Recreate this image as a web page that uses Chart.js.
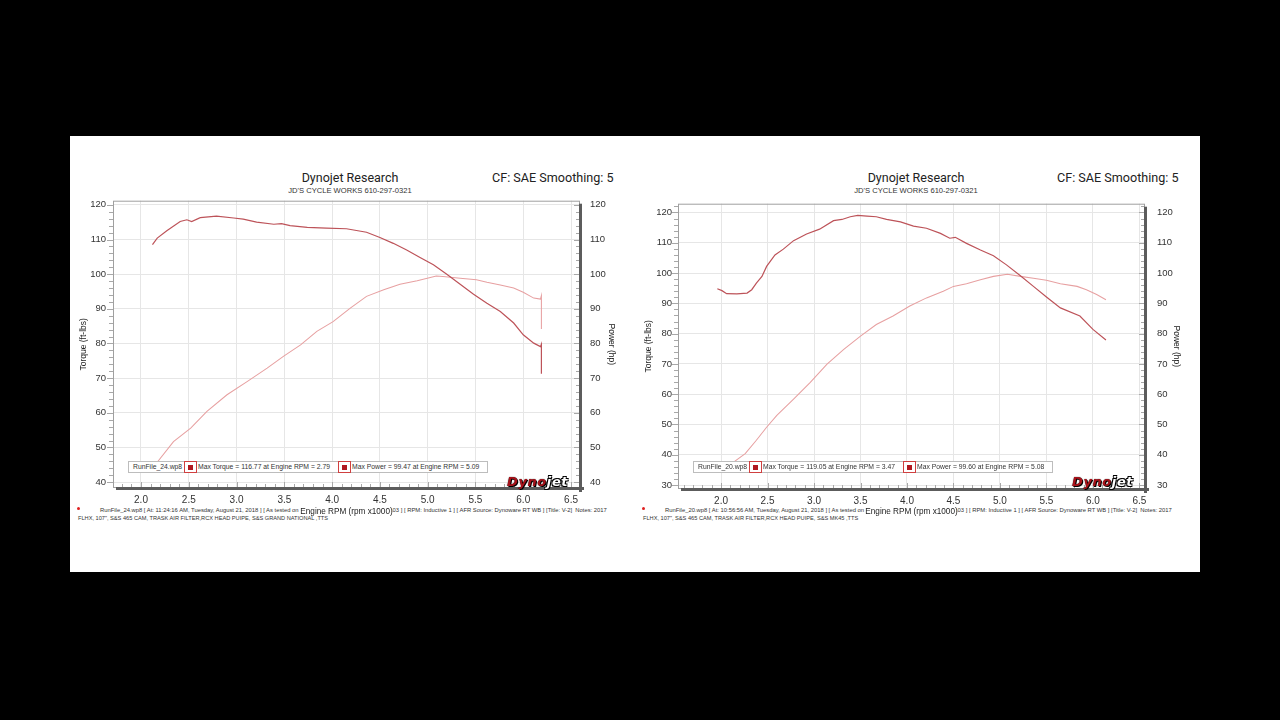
<!DOCTYPE html>
<html><head><meta charset="utf-8">
<script src="https://cdn.jsdelivr.net/npm/chart.js@4.4.1/dist/chart.umd.min.js"></script>
<style>
html,body{margin:0;padding:0;background:#000;width:1280px;height:720px;overflow:hidden;font-family:"Liberation Sans",Arial,sans-serif;}
#panel{position:absolute;left:70px;top:136px;width:1130px;height:436px;background:#fff;}
.abs{position:absolute;white-space:nowrap;}
.title{font-family:Roboto,"Liberation Sans",sans-serif;font-size:12.5px;color:#222;text-align:center;width:200px;line-height:16px;}
.sub{font-size:7.6px;color:#333;text-align:center;width:200px;line-height:10px;}
.cf{font-family:Roboto,"Liberation Sans",sans-serif;font-size:12.6px;color:#222;line-height:16px;}
.foot{font-size:5.85px;color:#333;line-height:7px;}
.foot2{font-size:5.65px;color:#333;line-height:7px;}
.dot{width:3px;height:3px;border-radius:50%;background:#e02020;}
canvas{position:absolute;}
.leg{position:absolute;height:10px;border:1px solid #bdbdbd;background:#fff;font-size:6.8px;color:#333;line-height:10px;}
.leg span{position:absolute;top:0;white-space:nowrap;}
.icon{position:absolute;top:-1px;width:11px;height:10px;border:1px solid #d04040;background:#fff;}
.icon:after{content:"";position:absolute;left:3px;top:2.5px;width:5px;height:5px;background:#b01820;}
.logo{position:absolute;font-weight:bold;font-style:italic;font-size:13px;line-height:12px;letter-spacing:0.6px;font-family:"DejaVu Sans",sans-serif;}
.logo .a{color:#a8121a;text-shadow:0 0 1px #000,1px 1px 0 #000;}
.logo .b{color:#fff;text-shadow:0 0 1px #000,1px 1px 0 #000,-1px -1px 0 #000,1px -1px 0 #000,-1px 1px 0 #000;}
</style>
</head><body>
<div id="panel"></div>

<!-- left chart texts -->
<div class="abs title" style="left:250px;top:170px;">Dynojet Research</div>
<div class="abs sub" style="left:250px;top:186px;">JD'S CYCLE WORKS 610-297-0321</div>
<div class="abs cf" style="left:492px;top:170px;">CF: SAE Smoothing: 5</div>
<div class="abs dot" style="left:77px;top:507px;"></div>
<div class="abs foot" style="left:100px;top:507px;">RunFile_24.wp8 [ At: 11:24:16 AM, Tuesday, August 21, 2018 ] [ As tested on</div>
<div class="abs foot" style="left:391px;top:507px;">.03 ] [ RPM: Inductive 1 ] [ AFR Source: Dynoware RT WB ] [Title: V-2]&nbsp; Notes: 2017</div>
<div class="abs foot2" style="left:78px;top:515px;">FLHX, 107", S&amp;S 465 CAM, TRASK AIR FILTER,RCX HEAD PUIPE, S&amp;S GRAND NATIONAL ,TTS</div>

<!-- right chart texts -->
<div class="abs title" style="left:816px;top:170px;">Dynojet Research</div>
<div class="abs sub" style="left:816px;top:186px;">JD'S CYCLE WORKS 610-297-0321</div>
<div class="abs cf" style="left:1057px;top:170px;">CF: SAE Smoothing: 5</div>
<div class="abs dot" style="left:642px;top:507px;"></div>
<div class="abs foot" style="left:665px;top:507px;">RunFile_20.wp8 [ At: 10:56:56 AM, Tuesday, August 21, 2018 ] [ As tested on</div>
<div class="abs foot" style="left:956px;top:507px;">.03 ] [ RPM: Inductive 1 ] [ AFR Source: Dynoware RT WB ] [Title: V-2]&nbsp; Notes: 2017</div>
<div class="abs foot2" style="left:643px;top:515px;">FLHX, 107", S&amp;S 465 CAM, TRASK AIR FILTER,RCX HEAD PUIPE, S&amp;S MK45 ,TTS</div>

<canvas id="c1" width="545" height="335" style="left:75px;top:185px;"></canvas>
<canvas id="c2" width="545" height="334" style="left:640px;top:186px;"></canvas>

<!-- legends -->
<div class="leg" style="left:128px;top:461px;width:358px;">
  <span style="left:4px;">RunFile_24.wp8</span><div class="icon" style="left:55px;"></div>
  <span style="left:69px;">Max Torque = 116.77 at Engine RPM = 2.79</span><div class="icon" style="left:209px;"></div>
  <span style="left:223px;">Max Power = 99.47 at Engine RPM = 5.09</span>
</div>
<div class="leg" style="left:693px;top:461px;width:358px;">
  <span style="left:4px;">RunFile_20.wp8</span><div class="icon" style="left:55px;"></div>
  <span style="left:69px;">Max Torque = 119.05 at Engine RPM = 3.47</span><div class="icon" style="left:209px;"></div>
  <span style="left:223px;">Max Power = 99.60 at Engine RPM = 5.08</span>
</div>
<div class="logo" style="left:507px;top:476px;"><span class="a">Dyno</span><span class="b">jet</span></div>
<div class="logo" style="left:1072px;top:476px;"><span class="a">Dyno</span><span class="b">jet</span></div>

<script>
// ---- Run 24 (left) ----
const torqueRpmA = [2.12,2.17,2.27,2.41,2.48,2.53,2.62,2.79,2.97,3.07,3.21,3.39,3.47,3.56,3.74,3.94,4.15,4.36,4.50,4.64,4.78,4.92,5.06,5.20,5.34,5.48,5.62,5.76,5.90,6.00,6.11,6.18,6.19,6.19];
const torqueA    = [108.5,110.4,112.5,115.2,115.7,115.2,116.3,116.77,116.2,115.9,115.0,114.4,114.6,114.0,113.5,113.3,113.1,112.1,110.6,108.9,107.0,104.8,102.7,100.0,97.1,94.2,91.6,89.2,85.9,82.5,80.1,79.1,79.8,71.3];
const powerRpmA  = [2.12,2.34,2.52,2.69,2.90,3.11,3.32,3.49,3.67,3.84,4.01,4.19,4.36,4.54,4.71,4.89,5.09,5.16,5.34,5.51,5.62,5.76,5.90,6.00,6.11,6.18,6.19,6.19];
const powerA     = [44.0,51.7,55.6,60.4,65.2,69.0,72.9,76.3,79.6,83.5,86.3,90.2,93.6,95.5,97.1,98.1,99.47,99.3,98.8,98.4,97.7,96.9,96.0,94.8,93.1,92.8,93.8,84.2];
// ---- Run 20 (right) ----
const torqueRpmB = [1.96,2.01,2.06,2.17,2.28,2.33,2.38,2.44,2.49,2.58,2.67,2.78,2.92,3.06,3.21,3.30,3.39,3.47,3.57,3.67,3.78,3.93,4.07,4.21,4.36,4.46,4.52,4.64,4.79,4.93,5.07,5.22,5.36,5.50,5.65,5.86,6.00,6.14];
const torqueB    = [94.8,94.2,93.2,93.1,93.4,94.5,96.7,98.9,102.2,106.0,107.9,110.7,112.9,114.5,117.3,117.7,118.6,119.05,118.8,118.6,117.7,116.9,115.5,114.8,113.1,111.5,111.8,109.8,107.6,105.7,102.7,99.1,95.6,92.1,88.5,85.8,81.4,77.9];
const powerRpmB  = [2.12,2.15,2.26,2.38,2.49,2.60,2.78,2.96,3.14,3.32,3.50,3.67,3.85,4.03,4.21,4.39,4.50,4.64,4.79,4.93,5.08,5.22,5.36,5.50,5.65,5.83,5.93,6.04,6.14];
const powerB     = [36.5,37.9,40.4,44.8,49.1,53.0,58.4,63.9,69.9,74.8,79.2,83.0,85.8,89.1,91.8,94.0,95.6,96.5,97.8,98.9,99.6,98.9,98.3,97.6,96.5,95.6,94.5,92.9,91.2];

const xTitle = 'Engine RPM (rpm x1000)';
const yTitleLeft = 'Torque (ft-lbs)';
const yTitleRight = 'Power (hp)';

const framePlugin = {
  id:'frame',
  beforeDatasetsDraw(chart){
    const {ctx, chartArea:{left,right,top,bottom}, scales:{x,y}} = chart;
    ctx.save();
    ctx.strokeStyle='#a8a8a8'; ctx.lineWidth=1;
    ctx.beginPath();
    const x0 = Math.ceil(x.min*10);
    for(let i=x0;i/10<=x.max;i++){
      const px=Math.round(x.getPixelForValue(i/10))+0.5;
      const len = (i%5===0)?6:4;
      ctx.moveTo(px,bottom); ctx.lineTo(px,bottom-len);
    }
    const y0 = Math.ceil(y.min/2);
    for(let j=y0;j*2<=y.max;j++){
      const py=Math.round(y.getPixelForValue(j*2))+0.5;
      const len = (j%5===0)?6:4;
      ctx.moveTo(left-len,py); ctx.lineTo(left,py);
      ctx.moveTo(right-len,py); ctx.lineTo(right,py);
    }
    ctx.stroke();
    ctx.restore();
  },
  afterDraw(chart){
    const {ctx, chartArea:{left,right,top,bottom}} = chart;
    ctx.save();
    ctx.strokeStyle='#a0a0a0'; ctx.lineWidth=1;
    ctx.strokeRect(left+0.5, top+0.5, right-left-1, bottom-top-1);
    ctx.fillStyle='#5c5c5c';
    ctx.fillRect(right-1, top+3, 3, bottom-top+1);
    ctx.fillRect(left+3, bottom-1, right-left+1, 3);
    ctx.restore();
  }
};

function pts(xs, ys){ return xs.map((v,i)=>({x:v,y:ys[i]})); }

function makeChart(id, o){
  const tickFont = {family:'"Liberation Sans", Arial, sans-serif', size:9.5};
  const yAxis = (pos, w, pad, title) => ({
    type:'linear', position:pos, min:o.ymin, max:o.ymax,
    ticks:{stepSize:10, includeBounds:false, font:tickFont, color:'#333', padding:pad},
    grid:{color:'#e6e6e6', drawTicks:false, drawOnChartArea: pos==='left'},
    border:{display:false},
    title:{display:true, text:title, font:{family:'"Liberation Sans", Arial, sans-serif', size:8.5}, color:'#222', padding:{top:4,bottom:4}},
    afterFit:s=>{s.width=w;}
  });
  return new Chart(document.getElementById(id), {
    type:'line',
    data:{datasets:[
      {label:'Torque', data:pts(o.tx,o.ty), borderColor:'#bd5359', borderWidth:1.2, pointRadius:0, tension:0, yAxisID:'y'},
      {label:'Power', data:pts(o.px,o.py), borderColor:'#e7a0a1', borderWidth:1.05, pointRadius:0, tension:0, yAxisID:'y'}
    ]},
    options:{
      responsive:false, animation:false, devicePixelRatio:1,
      layout:{padding:{top:5,left:0,right:0,bottom:0}},
      plugins:{legend:{display:false}, tooltip:{enabled:false}},
      scales:{
        x:{type:'linear', min:o.xmin, max:o.xmax,
          ticks:{stepSize:0.5, includeBounds:false, callback:v=>Number(v).toFixed(1), font:{family:'"Liberation Sans", Arial, sans-serif', size:10}, color:'#333', padding:6, maxRotation:0, autoSkip:false},
          grid:{color:'#e6e6e6', drawTicks:false}, border:{display:false},
          title:{display:true, text:xTitle, font:{family:'"Liberation Sans", Arial, sans-serif', size:8.2}, color:'#222', padding:{top:0,bottom:3}},
          afterFit:s=>{s.height=o.xh;}},
        y: yAxis('left', 38, o.lpad, yTitleLeft),
        y2: yAxis('right', 40, o.rpad, yTitleRight)
      }
    },
    plugins:[framePlugin]
  });
}

makeChart('c1', {tx:torqueRpmA, ty:torqueA, px:powerRpmA, py:powerA, xmin:1.707, xmax:6.594, ymin:38.3, ymax:121.2, xh:32, lpad:7, rpad:10});
makeChart('c2', {tx:torqueRpmB, ty:torqueB, px:powerRpmB, py:powerB, xmin:1.537, xmax:6.56, ymin:28.7, ymax:122.9, xh:31, lpad:6, rpad:12});
</script>
</body></html>
